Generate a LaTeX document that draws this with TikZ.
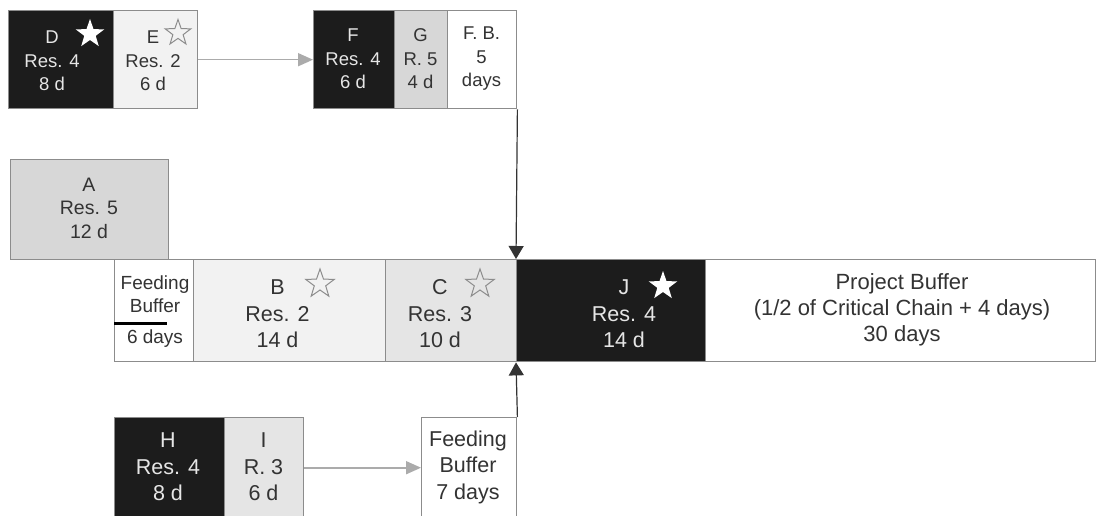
\documentclass[tikz,border=0pt]{standalone}
\usepackage{fontspec}
\setmainfont{Liberation Sans}
\usetikzlibrary{shapes.geometric,arrows.meta}
\definecolor{blk}{HTML}{1C1C1C}
\definecolor{lta}{HTML}{F2F2F2}
\definecolor{ltb}{HTML}{E5E5E5}
\definecolor{ltc}{HTML}{D7D7D7}
\definecolor{boxline}{HTML}{8C8C8C}
\definecolor{txtdark}{HTML}{333333}
\definecolor{txtlight}{HTML}{E6E6E6}
\definecolor{arrgrey}{HTML}{ABABAB}
\newcommand\myfontT{\fontsize{18.5}{23.5}\selectfont}
\newcommand\myfontA{\fontsize{19.5}{23.5}\selectfont}
\newcommand\myfontS{\fontsize{19}{23}\selectfont}
\newcommand\myfontL{\fontsize{21.5}{26.5}\selectfont}
\newcommand\myfontP{\fontsize{22}{26}\selectfont}
\begin{document}
\begin{tikzpicture}[x=1pt,y=-1pt,
  box/.style 2 args={draw=boxline, line width=1.4pt, anchor=north west, inner sep=0pt,
    minimum width=#1pt, minimum height=#2pt},
  dtxt/.style={align=center, inner sep=0pt, text=txtdark},
  ltxt/.style={align=center, inner sep=0pt, text=txtlight},
  wstar/.style={star, star points=5, star point ratio=2.5, minimum size=30pt, inner sep=0pt, fill=white},
  ostar/.style={star, star points=5, star point ratio=2.5, minimum size=30pt, inner sep=0pt, draw=boxline, line width=1pt},
  garrow/.style={draw=arrgrey, line width=1.6pt, -{Triangle[length=15pt,width=13pt]}},
  barrow/.style={draw=black!80, line width=1.2pt, -{Triangle[length=13pt,width=15pt]}}
]
\clip (0,0) rectangle (1097,516);
\fill[white] (0,0) rectangle (1097,516);

% top row
\node[box={105}{98}, fill=blk] (D) at (8,10) {};
\node[box={84}{98}, fill=lta] (E) at (113,10) {};
\node[box={81}{98}, fill=blk] (F) at (313,10) {};
\node[box={53}{98}, fill=ltc] (G) at (394,10) {};
\node[box={69}{98}, fill=white] (FB1) at (447,10) {};

% A
\node[box={158}{100}, fill=ltc] (A) at (10,159) {};

% middle row
\node[box={79}{102}, fill=white] (FBs) at (114,259) {};
\node[box={192}{102}, fill=lta] (B) at (193,259) {};
\node[box={131}{102}, fill=ltb] (C) at (385,259) {};
\node[box={390}{102}, fill=white] (PB) at (705,259) {};
\node[box={189}{102}, fill=blk] (J) at (516,259) {};

% bottom row
\node[box={110}{100}, fill=blk] (H) at (114,417) {};
\node[box={79}{100}, fill=ltb] (I) at (224,417) {};
\node[box={95}{100}, fill=white] (FB2) at (421,417) {};

% texts
\node[ltxt, font=\myfontT] (Dt) at (52,61) {D\\Res. 4\\8 d};
\node[wstar] (Ds) at (90,34) {};
\node[dtxt, font=\myfontT] (Et) at (153,61) {E\\Res. 2\\6 d};
\node[ostar, minimum size=27pt] (Es) at (178,33) {};
\node[ltxt, font=\myfontT] (Ft) at (353,59) {F\\Res. 4\\6 d};
\node[dtxt, font=\myfontT] (Gt) at (420.5,59) {G\\R. 5\\4 d};
\node[dtxt, font=\myfontT] (FB1t) at (481.5,59) {F. B.\\5\\days};

\node[dtxt, font=\myfontA] (At) at (89,208) {A\\Res. 5\\12 d};

\node[dtxt, font=\myfontS] (FBst) at (155,294) {Feeding\\Buffer};
\node[dtxt, font=\myfontS] (FBsd) at (155,339) {6 days};
\draw[line width=3pt, black] (FBs.west |- 0,323) -- ++(53,0);

\node[dtxt, font=\myfontL] (Bt) at (277.5,314) {B\\Res. 2\\14 d};
\node[ostar] (Bs) at (320,284) {};
\node[dtxt, font=\myfontL] (Ct) at (440,314) {C\\Res. 3\\10 d};
\node[ostar] (Cs) at (480,284) {};
\node[ltxt, font=\myfontL] (Jt) at (624,314) {J\\Res. 4\\14 d};
\node[wstar] (Js) at (663,286) {};
\node[dtxt, font=\myfontP] (PBt) at (902,310) {Project Buffer\\(1/2 of Critical Chain + 4 days)\\30 days};

\node[ltxt, font=\myfontL] (Ht) at (168,467) {H\\Res. 4\\8 d};
\node[dtxt, font=\myfontL] (It) at (263.5,467) {I\\R. 3\\6 d};
\node[dtxt, font=\myfontL] (FB2t) at (468,467) {Feeding\\Buffer\\7 days};

% connectors
\draw[garrow] (E.east) -- (F.west);
\draw[garrow] (I.east) -- (FB2.west);
\draw[barrow] (FB1.south east) -- (J.north west);
\draw[barrow] (FB2.north east) -- (J.south west);
\end{tikzpicture}
\end{document}
